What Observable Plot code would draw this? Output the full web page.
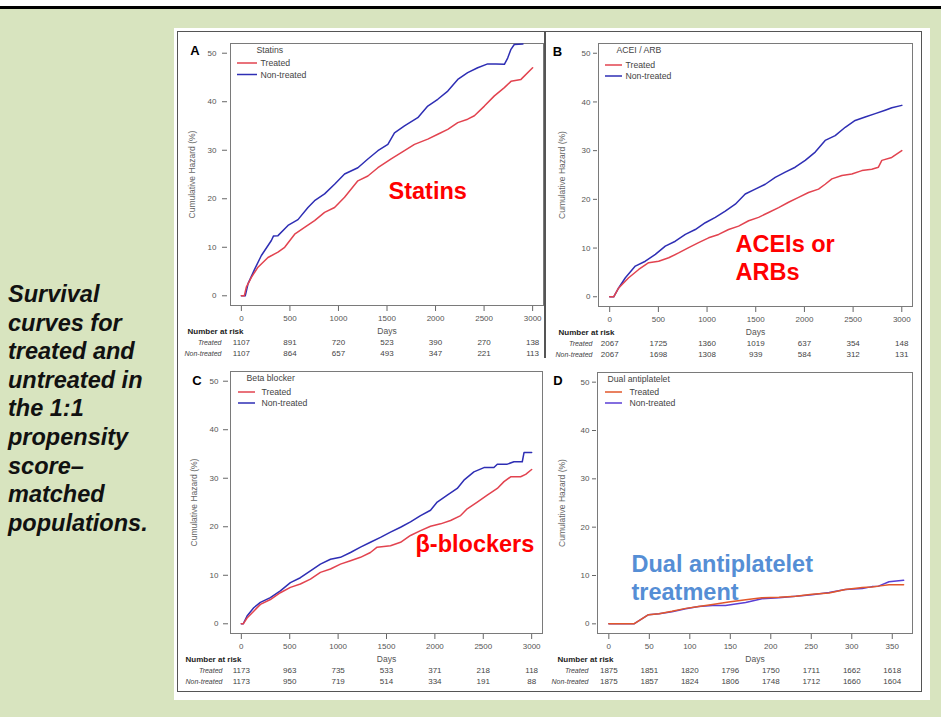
<!DOCTYPE html>
<html>
<head>
<meta charset="utf-8">
<script src="https://cdn.jsdelivr.net/npm/d3@7"></script>
<script src="https://cdn.jsdelivr.net/npm/@observablehq/plot@0.6"></script>
<style>
html,body{margin:0;padding:0;}
body{width:941px;height:717px;background:#d8e4bf;position:relative;overflow:hidden;font-family:"Liberation Sans",Arial,sans-serif;}
#topw{position:absolute;left:0;top:0;width:941px;height:6px;background:#fff;}
#topb{position:absolute;left:0;top:6px;width:941px;height:3px;background:#000;}
#caption{position:absolute;left:8px;top:280px;white-space:nowrap;font:italic bold 23.5px/28.6px "Liberation Sans",Arial,sans-serif;color:#111;}
#panel{position:absolute;left:174px;top:28px;width:756px;height:672px;background:#fff;}
#inner{position:absolute;left:177px;top:31px;width:745px;height:661px;border:1.5px solid #555;box-sizing:border-box;}
#divider{position:absolute;left:544px;top:31px;width:1.5px;height:327px;background:#555;}
.p{position:absolute;}
</style>
</head>
<body>
<div id="topw"></div>
<div id="topb"></div>
<div id="caption">Survival<br>curves for<br>treated and<br>untreated in<br>the 1:1<br>propensity<br>score–<br>matched<br>populations.</div>
<div id="panel"></div>
<div id="inner"></div>
<div id="divider"></div>
<div id="pA" class="p" style="left:178px;top:32px"></div>
<div id="pB" class="p" style="left:548px;top:32px"></div>
<div id="pC" class="p" style="left:178px;top:360px"></div>
<div id="pD" class="p" style="left:548px;top:360px"></div>
<script>
// ---------- data ----------
const yTicks = [0, 10, 20, 30, 40, 50];
const longTicks = [0, 500, 1000, 1500, 2000, 2500, 3000];
const daptTicks = [0, 50, 100, 150, 200, 250, 300, 350];

const statinsTreated = [[0,0],[30,0],[51,1.8],[103,3.8],[171,5.9],[274,7.9],[377,9.0],[446,10.0],[549,12.7],[651,14.1],[754,15.5],[857,17.2],[960,18.2],[1063,20.3],[1200,23.7],[1303,24.7],[1406,26.4],[1543,28.2],[1680,29.9],[1783,31.2],[1920,32.3],[2023,33.3],[2126,34.3],[2229,35.7],[2331,36.4],[2400,37.1],[2503,39.1],[2606,41.2],[2709,42.9],[2777,44.2],[2880,44.6],[3000,47.0]];
const statinsNonTreated = [[0,0],[40,0],[69,2.5],[137,5.5],[206,8.3],[309,11.4],[330,12.3],[377,12.4],[480,14.5],[583,15.7],[686,18.2],[754,19.6],[857,21.0],[960,23.0],[1063,25.1],[1200,26.4],[1303,28.2],[1406,29.9],[1509,31.2],[1577,33.6],[1680,35.0],[1817,36.7],[1920,39.1],[2023,40.5],[2126,42.2],[2229,44.6],[2331,46.0],[2434,47.0],[2537,47.8],[2623,47.8],[2709,47.7],[2743,49.0],[2777,50.8],[2811,51.8],[2900,51.9]];
const statinsRiskTreated = [1107, 891, 720, 523, 390, 270, 138];
const statinsRiskNonTreated = [1107, 864, 657, 493, 347, 221, 113];

const aceiTreated = [[0,0],[41,0],[92,1.8],[195,3.9],[298,5.6],[400,7.0],[503,7.3],[606,8.0],[708,9.0],[811,10.1],[913,11.1],[1016,12.1],[1119,12.8],[1221,13.8],[1324,14.5],[1427,15.6],[1529,16.3],[1632,17.3],[1735,18.3],[1837,19.4],[1940,20.4],[2042,21.4],[2145,22.1],[2213,23.1],[2282,24.2],[2385,24.9],[2487,25.2],[2590,25.9],[2692,26.2],[2760,26.6],[2795,28.0],[2897,28.6],[3000,30.0]];
const aceiNonTreated = [[0,0],[41,0],[92,1.8],[161,3.9],[263,6.3],[366,7.3],[469,8.7],[571,10.4],[674,11.4],[777,12.8],[879,13.8],[982,15.2],[1085,16.3],[1187,17.6],[1290,19.0],[1392,21.1],[1495,22.1],[1598,23.1],[1700,24.5],[1803,25.6],[1905,26.6],[2008,28.0],[2111,29.7],[2213,32.1],[2316,33.1],[2419,34.8],[2521,36.2],[2624,36.9],[2727,37.6],[2829,38.3],[2898,38.8],[3000,39.3]];
const aceiRiskTreated = [2067, 1725, 1360, 1019, 637, 354, 148];
const aceiRiskNonTreated = [2067, 1698, 1308, 939, 584, 312, 131];

const betaTreated = [[0,0],[20,0],[59,1.2],[128,2.6],[197,4.0],[300,5.0],[403,6.4],[507,7.5],[610,8.2],[714,9.2],[817,10.6],[921,11.3],[1024,12.3],[1128,13.0],[1231,13.7],[1334,14.7],[1403,15.8],[1541,16.1],[1645,16.8],[1748,18.2],[1852,19.2],[1955,20.1],[2059,20.6],[2162,21.3],[2266,22.3],[2334,23.7],[2438,25.1],[2541,26.5],[2645,27.9],[2714,29.3],[2783,30.3],[2886,30.3],[2938,30.8],[3000,31.8]];
const betaNonTreated = [[0,0],[20,0],[59,1.6],[128,3.3],[197,4.4],[300,5.4],[403,6.8],[507,8.5],[610,9.5],[714,10.9],[817,12.3],[921,13.3],[1024,13.7],[1128,14.7],[1231,15.8],[1334,16.8],[1438,17.8],[1541,18.9],[1645,19.9],[1748,21.0],[1852,22.3],[1955,23.4],[2024,25.1],[2128,26.5],[2231,27.9],[2300,29.6],[2403,31.3],[2507,32.2],[2610,32.2],[2645,32.9],[2748,32.9],[2817,33.4],[2903,33.4],[2921,35.3],[3000,35.3]];
const betaRiskTreated = [1173, 963, 735, 533, 371, 218, 118];
const betaRiskNonTreated = [1173, 950, 719, 514, 334, 191, 88];

const daptTreated = [[0,0],[31,0],[49,1.9],[62,2.1],[78,2.6],[95,3.2],[111,3.6],[128,4.0],[148,4.5],[169,5.0],[189,5.4],[210,5.5],[231,5.7],[251,6.1],[272,6.4],[292,7.1],[313,7.5],[325,7.6],[333,7.8],[346,8.1],[364,8.1]];
const daptNonTreated = [[0,0],[31,0],[49,1.9],[62,2.1],[78,2.5],[95,3.1],[111,3.6],[128,3.8],[144,3.8],[169,4.4],[189,5.2],[210,5.4],[231,5.7],[251,6.0],[272,6.5],[292,7.1],[313,7.3],[325,7.7],[333,7.8],[346,8.7],[364,9.0]];
const daptRiskTreated = [1875, 1851, 1820, 1796, 1750, 1711, 1662, 1618];
const daptRiskNonTreated = [1875, 1857, 1824, 1806, 1748, 1712, 1660, 1604];

const seriesLabels = ["Treated", "Non-treated"];

// ---------- drawing ----------
const FONT = "'Liberation Sans', Arial, sans-serif";

function makePanel(cfg) {
  const L = cfg.layout;
  const riskRows = cfg.ticks.map((t, i) => ({t, a: String(cfg.riskT[i]), b: String(cfg.riskN[i])}));
  const svg = Plot.plot({
    width: L.width, height: L.height,
    marginLeft: L.ml, marginRight: L.mr, marginTop: L.mt, marginBottom: L.mb,
    x: {domain: cfg.xDomain},
    y: {domain: [-2, 52]},
    style: {background: "transparent", fontFamily: FONT, fontSize: "8px", color: "#555", overflow: "visible"},
    marks: [
      Plot.frame({stroke: "#7a7a7a", strokeWidth: 1}),
      Plot.axisX({ticks: cfg.ticks, tickFormat: d => String(d), tickSize: 5, tickPadding: 4, dy: 1, label: null, stroke: "#666", fill: "#555", fontSize: 8}),
      Plot.axisY({ticks: yTicks, tickFormat: d => String(d), tickSize: L.ytick, tickPadding: L.ypad, dx: L.ydx, label: null, stroke: "#666", fill: "#555", fontSize: 8}),
      Plot.text(["Cumulative Hazard (%)"], {text: d => d, frameAnchor: "left", dx: L.ylab, rotate: -90, textAnchor: "middle", lineAnchor: "middle", fontSize: 8.5, fill: "#666"}),
      Plot.text(["Days"], {text: d => d, frameAnchor: "bottom", dy: 26, textAnchor: "middle", lineAnchor: "middle", fontSize: 8.5, fill: "#555"}),
      Plot.line(cfg.nontreated, {x: d => d[0], y: d => d[1], stroke: cfg.colors[1], strokeWidth: 1.5}),
      Plot.line(cfg.treated, {x: d => d[0], y: d => d[1], stroke: cfg.colors[0], strokeWidth: 1.5}),
      Plot.text([cfg.label], {text: d => d, frameAnchor: "top-left", dx: L.lab[0], dy: L.lab[1], textAnchor: "middle", lineAnchor: "middle", fontSize: 13, fontWeight: "bold", fill: "#000"}),
      // legend
      Plot.text([cfg.title], {text: d => d, frameAnchor: "top-left", dx: L.leg.title, dy: 7, textAnchor: "start", lineAnchor: "middle", fontSize: 8.7, fill: "#444"}),
      Plot.text([seriesLabels[0]], {text: d => d, frameAnchor: "top-left", dx: L.leg.text, dy: L.leg.rows[0], textAnchor: "start", lineAnchor: "middle", fontSize: 8.7, fill: "#444"}),
      Plot.text([seriesLabels[1]], {text: d => d, frameAnchor: "top-left", dx: L.leg.text, dy: L.leg.rows[1], textAnchor: "start", lineAnchor: "middle", fontSize: 8.7, fill: "#444"}),
      // number at risk table
      Plot.text(["Number at risk"], {text: d => d, frameAnchor: "bottom-left", dx: L.nar, dy: 26, textAnchor: "start", lineAnchor: "middle", fontSize: 8, fontWeight: "bold", fill: "#222"}),
      Plot.text([seriesLabels[0]], {text: d => d, frameAnchor: "bottom-left", dx: L.rowLab, dy: 37, textAnchor: "end", lineAnchor: "middle", fontSize: 7, fontStyle: "italic", fill: "#444"}),
      Plot.text([seriesLabels[1]], {text: d => d, frameAnchor: "bottom-left", dx: L.rowLab, dy: 48, textAnchor: "end", lineAnchor: "middle", fontSize: 7, fontStyle: "italic", fill: "#444"}),
      Plot.text(riskRows, {x: "t", text: "a", frameAnchor: "bottom", dy: 37, textAnchor: "middle", lineAnchor: "middle", fontSize: 8, fill: "#444"}),
      Plot.text(riskRows, {x: "t", text: "b", frameAnchor: "bottom", dy: 48, textAnchor: "middle", lineAnchor: "middle", fontSize: 8, fill: "#444"}),
      // overlay annotation
      Plot.text([cfg.note], {text: d => d, frameAnchor: "top-left", dx: L.note[0], dy: L.note[1], textAnchor: "start", lineAnchor: "bottom", lineHeight: L.note[2], fontSize: 23.5, fontWeight: "bold", fill: cfg.noteColor})
    ]
  });
  // legend swatches (positioned relative to the frame)
  const g = d3.select(svg).append("g");
  cfg.colors.forEach((c, i) => {
    const yy = L.mt + L.leg.rows[i];
    g.append("line").attr("x1", L.ml + L.leg.line[0]).attr("x2", L.ml + L.leg.line[1])
      .attr("y1", yy).attr("y2", yy).attr("stroke", c).attr("stroke-width", 1.5);
  });
  document.getElementById(cfg.id).appendChild(svg);
}

makePanel({
  id: "pA", label: "A", title: "Statins", note: "Statins", noteColor: "#ff0000",
  treated: statinsTreated, nontreated: statinsNonTreated,
  riskT: statinsRiskTreated, riskN: statinsRiskNonTreated,
  ticks: longTicks, xDomain: [-112, 3112], colors: ["#e2434f", "#2e2eb4"],
  layout: {width: 367, height: 328, ml: 52, mr: 2, mt: 11, mb: 55, ytick: 5, ypad: 6, ydx: -3, ylab: -38,
    lab: [-35.5, 7.5], leg: {title: 26, line: [7, 27], text: 30, rows: [20, 31.5]}, nar: -43, rowLab: -9,
    note: [158, 155, 1.15]}
});
makePanel({
  id: "pB", label: "B", title: "ACEI / ARB", note: "ACEIs or\nARBs", noteColor: "#ff0000",
  treated: aceiTreated, nontreated: aceiNonTreated,
  riskT: aceiRiskTreated, riskN: aceiRiskNonTreated,
  ticks: longTicks, xDomain: [-115, 3110], colors: ["#e2434f", "#2e2eb4"],
  layout: {width: 366, height: 328, ml: 50, mr: 2, mt: 11, mb: 54, ytick: 4, ypad: 3, ydx: -1, ylab: -36,
    lab: [-41, 8], leg: {title: 18, line: [7, 24], text: 27, rows: [22, 33]}, nar: -40, rowLab: -6,
    note: [137, 236, 1.15]}
});
makePanel({
  id: "pC", label: "C", title: "Beta blocker", note: "β-blockers", noteColor: "#ff0000",
  treated: betaTreated, nontreated: betaNonTreated,
  riskT: betaRiskTreated, riskN: betaRiskNonTreated,
  ticks: longTicks, xDomain: [-112, 3112], colors: ["#e2434f", "#2e2eb4"],
  layout: {width: 366, height: 330, ml: 52, mr: 2, mt: 11, mb: 57, ytick: 5, ypad: 5, ydx: -2, ylab: -36,
    lab: [-33.5, 9], leg: {title: 16, line: [8, 25], text: 31, rows: [21, 32]}, nar: -45, rowLab: -8,
    note: [185, 180, 1.15]}
});
makePanel({
  id: "pD", label: "D", title: "Dual antiplatelet", note: "Dual antiplatelet\ntreatment", noteColor: "#558ed5",
  treated: daptTreated, nontreated: daptNonTreated,
  riskT: daptRiskTreated, riskN: daptRiskNonTreated,
  ticks: daptTicks, xDomain: [-14, 375], colors: ["#e2572b", "#5a3ed4"],
  layout: {width: 366, height: 330, ml: 49, mr: 2, mt: 12, mb: 57, ytick: 4, ypad: 3, ydx: -1, ylab: -35,
    lab: [-39.5, 8], leg: {title: 10, line: [8, 25], text: 32, rows: [20, 31]}, nar: -40, rowLab: -9,
    note: [34, 227, 1.19]}
});
</script>
</body>
</html>
